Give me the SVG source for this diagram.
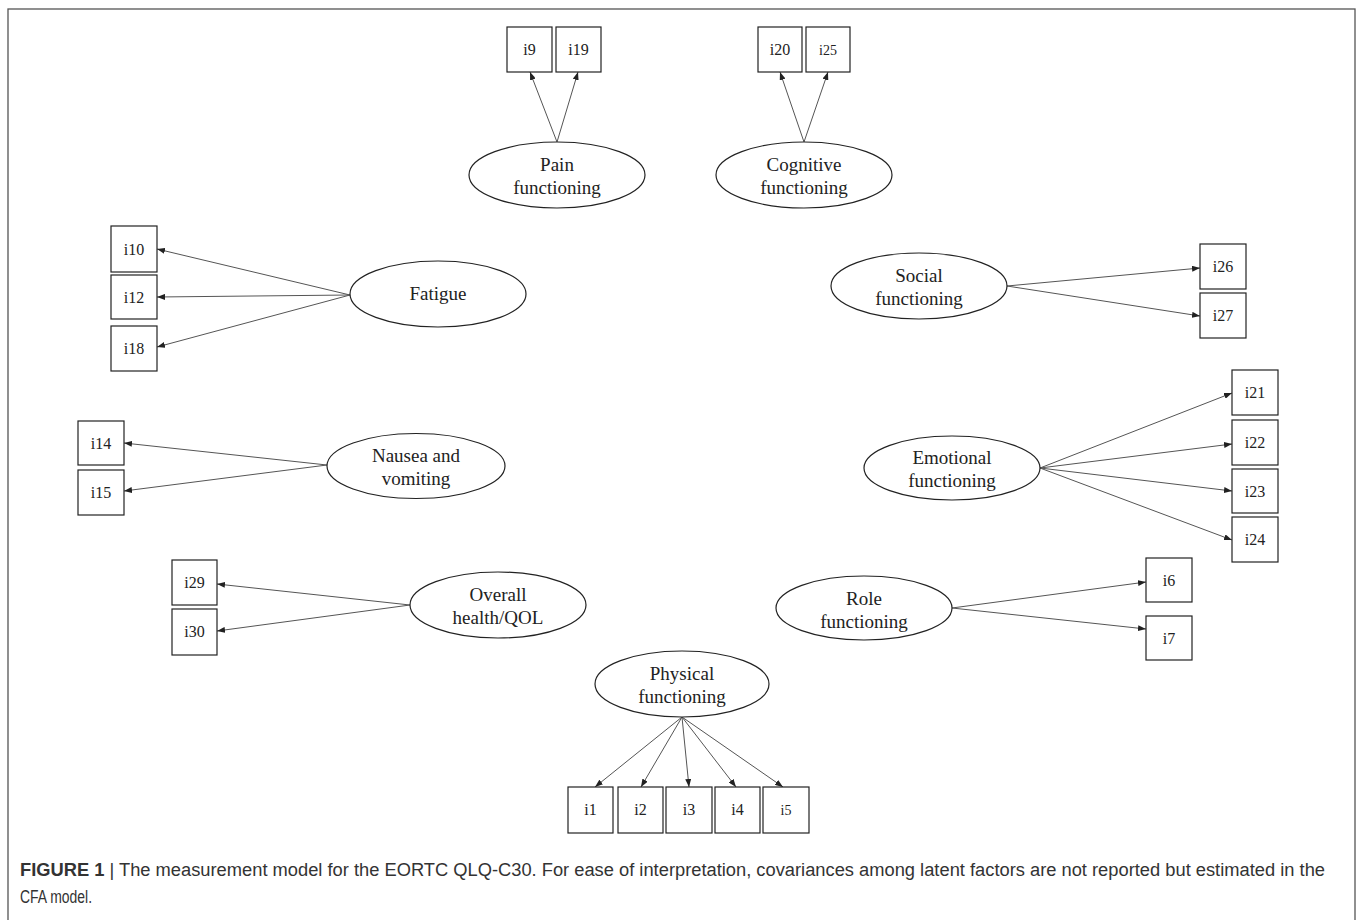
<svg xmlns="http://www.w3.org/2000/svg" width="1358" height="920" viewBox="0 0 1358 920">
<defs>
<marker id="ah" markerWidth="8" markerHeight="6" refX="8" refY="3" orient="auto" markerUnits="userSpaceOnUse">
<path d="M0,0 L8,3 L0,6 z" fill="#222"/>
</marker>
<style>
.bx{fill:#fff;stroke:#222;stroke-width:1.2}
.el{fill:#fff;stroke:#222;stroke-width:1.2}
.bt{font-family:"Liberation Serif",serif;font-size:16px;fill:#222;text-anchor:middle}
.et{font-family:"Liberation Serif",serif;font-size:19px;fill:#222;text-anchor:middle}
.cn line{stroke:#555;stroke-width:1;marker-end:url(#ah)}
.cap{font-family:"Liberation Sans",Arial,sans-serif;font-size:18px;fill:#333}
</style>
</defs>
<rect x="0" y="0" width="1358" height="920" fill="#fff"/>
<rect x="8" y="9" width="1347" height="912" fill="none" stroke="#555" stroke-width="1.3"/>

<g id="connectors" class="cn">
<line x1="557" y1="142" x2="530" y2="72"/>
<line x1="557" y1="142" x2="578" y2="72"/>
<line x1="804" y1="142" x2="780" y2="72"/>
<line x1="804" y1="142" x2="828" y2="72"/>
<line x1="350" y1="295" x2="157" y2="249"/>
<line x1="350" y1="295" x2="157" y2="297"/>
<line x1="350" y1="295" x2="157" y2="347"/>
<line x1="1007" y1="286" x2="1200" y2="268"/>
<line x1="1007" y1="286" x2="1200" y2="316"/>
<line x1="1040" y1="468" x2="1232" y2="393"/>
<line x1="1040" y1="468" x2="1232" y2="444"/>
<line x1="1040" y1="468" x2="1232" y2="491"/>
<line x1="1040" y1="468" x2="1232" y2="540"/>
<line x1="327" y1="465" x2="124" y2="443"/>
<line x1="327" y1="465" x2="124" y2="491"/>
<line x1="410" y1="605" x2="217" y2="584"/>
<line x1="410" y1="605" x2="217" y2="631"/>
<line x1="952" y1="608" x2="1146" y2="582"/>
<line x1="952" y1="608" x2="1146" y2="629"/>
<line x1="682" y1="717" x2="595" y2="787"/>
<line x1="682" y1="717" x2="641" y2="787"/>
<line x1="682" y1="717" x2="689" y2="787"/>
<line x1="682" y1="717" x2="736" y2="787"/>
<line x1="682" y1="717" x2="783" y2="787"/>
</g>

<g id="pain"><ellipse class="el" cx="557" cy="175" rx="88" ry="33"/><text class="et" x="557" y="171">Pain</text><text class="et" x="557" y="194">functioning</text></g>
<g id="cognitive"><ellipse class="el" cx="804" cy="175" rx="88" ry="33"/><text class="et" x="804" y="171">Cognitive</text><text class="et" x="804" y="194">functioning</text></g>
<g id="fatigue"><ellipse class="el" cx="438" cy="294" rx="88" ry="33"/><text class="et" x="438" y="300">Fatigue</text></g>
<g id="social"><ellipse class="el" cx="919" cy="286" rx="88" ry="33"/><text class="et" x="919" y="282">Social</text><text class="et" x="919" y="305">functioning</text></g>
<g id="emotional"><ellipse class="el" cx="952" cy="468" rx="88" ry="32"/><text class="et" x="952" y="464">Emotional</text><text class="et" x="952" y="487">functioning</text></g>
<g id="nausea"><ellipse class="el" cx="416" cy="466" rx="89" ry="32.5"/><text class="et" x="416" y="462">Nausea and</text><text class="et" x="416" y="485">vomiting</text></g>
<g id="overall"><ellipse class="el" cx="498" cy="605" rx="88" ry="33"/><text class="et" x="498" y="601">Overall</text><text class="et" x="498" y="624">health/QOL</text></g>
<g id="role"><ellipse class="el" cx="864" cy="608" rx="88" ry="32"/><text class="et" x="864" y="605">Role</text><text class="et" x="864" y="628">functioning</text></g>
<g id="physical"><ellipse class="el" cx="682" cy="684" rx="87" ry="33"/><text class="et" x="682" y="680">Physical</text><text class="et" x="682" y="703">functioning</text></g>

<g id="i9"><rect class="bx" x="507" y="27" width="45" height="45"/><text class="bt" x="529.5" y="55">i9</text></g>
<g id="i19"><rect class="bx" x="556" y="27" width="45" height="45"/><text class="bt" x="578.5" y="55">i19</text></g>
<g id="i20"><rect class="bx" x="758" y="27" width="44" height="45"/><text class="bt" x="780" y="55">i20</text></g>
<g id="i25"><rect class="bx" x="806" y="27" width="44" height="45"/><text class="bt" x="828" y="55" style="font-size:14px">i25</text></g>
<g id="i10"><rect class="bx" x="111" y="226" width="46" height="46"/><text class="bt" x="134" y="255">i10</text></g>
<g id="i12"><rect class="bx" x="111" y="275" width="46" height="44"/><text class="bt" x="134" y="303">i12</text></g>
<g id="i18"><rect class="bx" x="111" y="326" width="46" height="45"/><text class="bt" x="134" y="354">i18</text></g>
<g id="i26"><rect class="bx" x="1200" y="244" width="46" height="45"/><text class="bt" x="1223" y="272">i26</text></g>
<g id="i27"><rect class="bx" x="1200" y="293" width="46" height="45"/><text class="bt" x="1223" y="321">i27</text></g>
<g id="i21"><rect class="bx" x="1232" y="370" width="46" height="45"/><text class="bt" x="1255" y="398">i21</text></g>
<g id="i22"><rect class="bx" x="1232" y="420" width="46" height="45"/><text class="bt" x="1255" y="448">i22</text></g>
<g id="i23"><rect class="bx" x="1232" y="469" width="46" height="44"/><text class="bt" x="1255" y="497">i23</text></g>
<g id="i24"><rect class="bx" x="1232" y="517" width="46" height="45"/><text class="bt" x="1255" y="545">i24</text></g>
<g id="i14"><rect class="bx" x="78" y="421" width="46" height="44"/><text class="bt" x="101" y="449">i14</text></g>
<g id="i15"><rect class="bx" x="78" y="470" width="46" height="45"/><text class="bt" x="101" y="498">i15</text></g>
<g id="i29"><rect class="bx" x="172" y="560" width="45" height="45"/><text class="bt" x="194.5" y="588">i29</text></g>
<g id="i30"><rect class="bx" x="172" y="609" width="45" height="46"/><text class="bt" x="194.5" y="637">i30</text></g>
<g id="i6"><rect class="bx" x="1146" y="558" width="46" height="44"/><text class="bt" x="1169" y="586">i6</text></g>
<g id="i7"><rect class="bx" x="1146" y="616" width="46" height="44"/><text class="bt" x="1169" y="644">i7</text></g>
<g id="i1"><rect class="bx" x="568" y="787" width="45" height="46"/><text class="bt" x="590.5" y="815">i1</text></g>
<g id="i2"><rect class="bx" x="618" y="787" width="45" height="46"/><text class="bt" x="640.5" y="815">i2</text></g>
<g id="i3"><rect class="bx" x="666" y="787" width="46" height="46"/><text class="bt" x="689" y="815">i3</text></g>
<g id="i4"><rect class="bx" x="715" y="787" width="45" height="46"/><text class="bt" x="737.5" y="815">i4</text></g>
<g id="i5"><rect class="bx" x="763" y="787" width="46" height="46"/><text class="bt" x="786" y="815" style="font-size:14px">i5</text></g>

<g id="caption">
<text class="cap" x="20" y="876" textLength="1305" lengthAdjust="spacingAndGlyphs"><tspan font-weight="bold">FIGURE 1</tspan> | The measurement model for the EORTC QLQ-C30. For ease of interpretation, covariances among latent factors are not reported but estimated in the</text>
<text class="cap" x="20" y="903" textLength="72" lengthAdjust="spacingAndGlyphs">CFA model.</text>
</g>
</svg>
